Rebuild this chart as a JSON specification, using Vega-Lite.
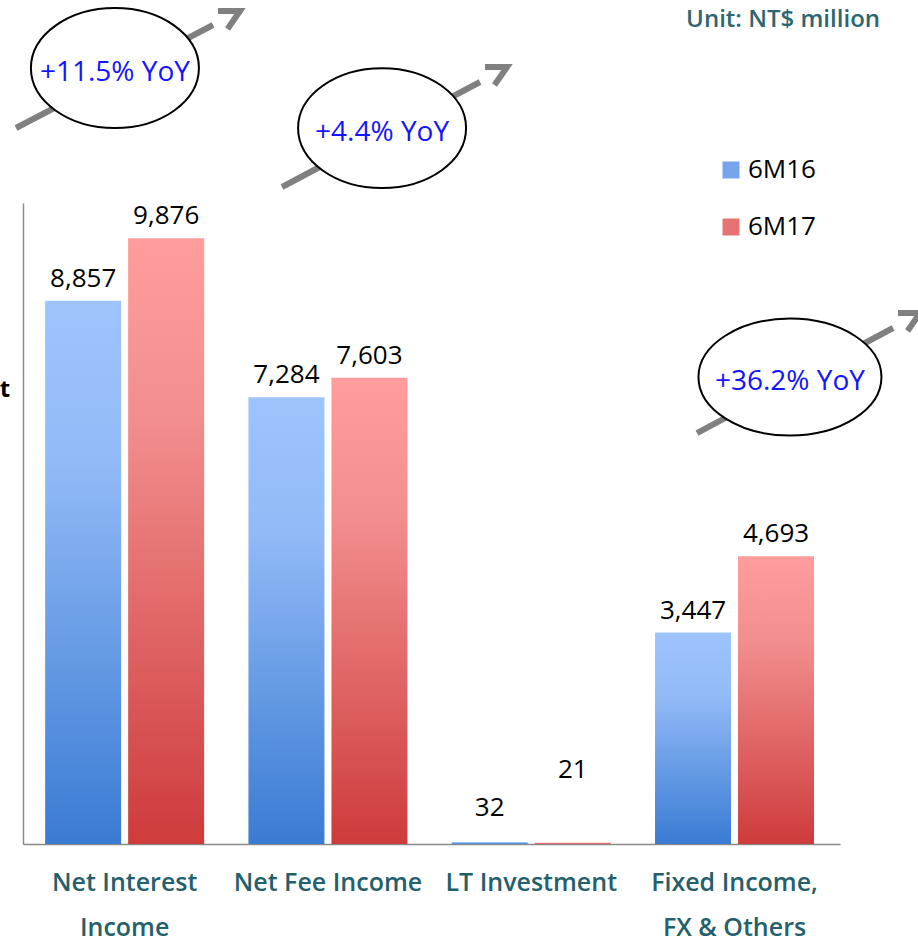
{
  "$schema": "https://vega.github.io/schema/vega-lite/v6.json",
  "width": 817,
  "height": 641,
  "autosize": {"type": "none"},
  "padding": {"left": 23, "top": 203, "right": 78, "bottom": 97},
  "background": "white",
  "config": {"view": {"stroke": null}, "font": "Open Sans"},
  "datasets": {
    "bars": [
      {"category": "Net Interest Income", "series": "6M16", "value": 8857},
      {"category": "Net Interest Income", "series": "6M17", "value": 9876},
      {"category": "Net Fee Income", "series": "6M16", "value": 7284},
      {"category": "Net Fee Income", "series": "6M17", "value": 7603},
      {"category": "LT Investment", "series": "6M16", "value": 32},
      {"category": "LT Investment", "series": "6M17", "value": 21},
      {"category": "Fixed Income, FX & Others", "series": "6M16", "value": 3447},
      {"category": "Fixed Income, FX & Others", "series": "6M17", "value": 4693}
    ],
    "arrows": [
      {"x0": -0.0343, "y0": 11673, "x1": 0.9302, "y1": 13352, "tipx": 1.0624, "tipy": 13580},
      {"x0": 1.2681, "y0": 10711, "x1": 2.2375, "y1": 12423, "tipx": 2.3696, "tipy": 12667},
      {"x0": 3.2999, "y0": 6700, "x1": 4.2595, "y1": 8412, "tipx": 4.3917, "tipy": 8657}
    ],
    "bubbles": [
      {"label": "+11.5% YoY", "bx": 0.45, "by": 12650},
      {"label": "+4.4% YoY", "bx": 1.758, "by": 11671},
      {"label": "+36.2% YoY", "bx": 3.755, "by": 7612}
    ],
    "notes": [
      {"note": "Unit: NT$ million", "kind": "unit", "nx": 4.196, "ny": 13440},
      {"note": "t", "kind": "side", "nx": -0.088, "ny": 7401}
    ]
  },
  "resolve": {"scale": {"x": "independent", "y": "independent"}},
  "layer": [
    {
      "data": {"name": "bars"},
      "encoding": {
        "x": {
          "field": "category", "type": "nominal", "sort": null,
          "scale": {"paddingInner": 0, "paddingOuter": 0.0094, "align": 0},
          "axis": {
            "title": null, "domainColor": "#8A8A8A", "domainWidth": 1.5,
            "ticks": false, "tickSize": 0, "labelFontSize": 25, "labelFont": "Open Sans",
            "labelFontWeight": 600, "labelColor": "#24606B", "labelAngle": 0,
            "labelPadding": 26, "labelLineHeight": 45, "labelBaseline": "top",
            "labelLimit": 400, "labelOverlap": false, "grid": false,
            "labelExpr": "datum.value == 'Net Interest Income' ? ['Net Interest', 'Income'] : datum.value == 'Fixed Income, FX & Others' ? ['Fixed Income,', 'FX & Others'] : datum.value"
          }
        },
        "xOffset": {
          "field": "series", "type": "nominal",
          "scale": {"domain": ["6M16", "6M17"], "paddingInner": 0.0843, "paddingOuter": 0.2667}
        },
        "y": {
          "field": "value", "type": "quantitative",
          "scale": {"domain": [0, 10450], "nice": false, "zero": true},
          "axis": {"labels": false, "ticks": false, "grid": false, "title": null, "domainColor": "#8A8A8A", "domainWidth": 1.5}
        }
      },
      "layer": [
        {
          "transform": [{"filter": "datum.series === '6M16'"}],
          "mark": {
            "type": "bar", "strokeWidth": 0,
            "fill": {"gradient": "linear", "x1": 0, "y1": 0, "x2": 0, "y2": 1,
              "stops": [{"offset": 0, "color": "#9EC4FE"}, {"offset": 0.3, "color": "#92BAF6"}, {"offset": 1, "color": "#3A7BD3"}]}
          }
        },
        {
          "transform": [{"filter": "datum.series === '6M17'"}],
          "mark": {
            "type": "bar", "strokeWidth": 0,
            "fill": {"gradient": "linear", "x1": 0, "y1": 0, "x2": 0, "y2": 1,
              "stops": [{"offset": 0, "color": "#FF9C9C"}, {"offset": 0.3, "color": "#F28E8E"}, {"offset": 1, "color": "#CE3B3B"}]}
          }
        },
        {
          "mark": {"type": "square", "opacity": 0},
          "encoding": {
            "color": {
              "field": "series", "type": "nominal",
              "scale": {"domain": ["6M16", "6M17"], "range": ["#76A5EC", "#E67272"]},
              "legend": {
                "title": null, "orient": "none", "legendX": 695, "legendY": -46,
                "symbolType": "square", "symbolSize": 289, "symbolOpacity": 1, "symbolStrokeWidth": 0,
                "labelFontSize": 26, "labelFont": "Open Sans", "labelColor": "black", "labelOffset": 4,
                "rowPadding": 31, "padding": 0
              }
            }
          }
        },
        {
          "transform": [{"filter": "datum.value > 100"}],
          "mark": {"type": "text", "dy": -22, "fontSize": 26, "font": "Open Sans", "color": "black", "baseline": "middle"},
          "encoding": {"text": {"field": "value", "type": "quantitative", "format": ","}}
        },
        {
          "transform": [{"filter": "datum.category === 'LT Investment' && datum.series === '6M16'"}],
          "mark": {"type": "text", "dy": -34, "fontSize": 26, "font": "Open Sans", "color": "black", "baseline": "middle"},
          "encoding": {"text": {"field": "value", "type": "quantitative", "format": ","}}
        },
        {
          "transform": [{"filter": "datum.category === 'LT Investment' && datum.series === '6M17'"}],
          "mark": {"type": "text", "dy": -73, "fontSize": 26, "font": "Open Sans", "color": "black", "baseline": "middle"},
          "encoding": {"text": {"field": "value", "type": "quantitative", "format": ","}}
        }
      ]
    },
    {
      "layer": [
        {
          "data": {"name": "arrows"},
          "mark": {"type": "rule", "color": "#808080", "strokeWidth": 6},
          "encoding": {
            "x": {"field": "x0", "type": "quantitative", "scale": {"domain": [0, 4], "nice": false, "zero": false}, "axis": null},
            "y": {"field": "y0", "type": "quantitative", "scale": {"domain": [0, 10450], "nice": false, "zero": false}, "axis": null},
            "x2": {"field": "x1"},
            "y2": {"field": "y1"}
          }
        },
        {
          "data": {"name": "arrows"},
          "mark": {"type": "point", "shape": "M -1.833 0 L 0 0 L -1.04 1.5", "size": 576, "filled": false, "stroke": "#808080", "strokeWidth": 6, "opacity": 1, "strokeJoin": "miter"},
          "encoding": {
            "x": {"field": "tipx", "type": "quantitative", "scale": {"domain": [0, 4], "nice": false, "zero": false}, "axis": null},
            "y": {"field": "tipy", "type": "quantitative", "scale": {"domain": [0, 10450], "nice": false, "zero": false}, "axis": null}
          }
        },
        {
          "data": {"name": "bubbles"},
          "transform": [{"filter": "datum.label !== '+36.2% YoY'"}],
          "mark": {"type": "point", "shape": "M -1 0 C -1 -0.394 -0.5523 -0.714 0 -0.714 C 0.5523 -0.714 1 -0.394 1 0 C 1 0.394 0.5523 0.714 0 0.714 C -0.5523 0.714 -1 0.394 -1 0 Z", "size": 28224, "filled": true, "fill": "white", "stroke": "black", "strokeWidth": 2, "opacity": 1},
          "encoding": {
            "x": {"field": "bx", "type": "quantitative", "scale": {"domain": [0, 4], "nice": false, "zero": false}, "axis": null},
            "y": {"field": "by", "type": "quantitative", "scale": {"domain": [0, 10450], "nice": false, "zero": false}, "axis": null}
          }
        },
        {
          "data": {"name": "bubbles"},
          "transform": [{"filter": "datum.label === '+36.2% YoY'"}],
          "mark": {"type": "point", "shape": "M -1 0 C -1 -0.353 -0.5523 -0.639 0 -0.639 C 0.5523 -0.639 1 -0.353 1 0 C 1 0.353 0.5523 0.639 0 0.639 C -0.5523 0.639 -1 0.353 -1 0 Z", "size": 33489, "filled": true, "fill": "white", "stroke": "black", "strokeWidth": 2, "opacity": 1},
          "encoding": {
            "x": {"field": "bx", "type": "quantitative", "scale": {"domain": [0, 4], "nice": false, "zero": false}, "axis": null},
            "y": {"field": "by", "type": "quantitative", "scale": {"domain": [0, 10450], "nice": false, "zero": false}, "axis": null}
          }
        },
        {
          "data": {"name": "bubbles"},
          "mark": {"type": "text", "fontSize": 28, "font": "Open Sans", "fontWeight": 500, "color": "#1414FF", "baseline": "middle", "align": "center", "dy": 5},
          "encoding": {
            "x": {"field": "bx", "type": "quantitative", "scale": {"domain": [0, 4], "nice": false, "zero": false}, "axis": null},
            "y": {"field": "by", "type": "quantitative", "scale": {"domain": [0, 10450], "nice": false, "zero": false}, "axis": null},
            "text": {"field": "label"}
          }
        },
        {
          "data": {"name": "notes"},
          "transform": [{"filter": "datum.kind === 'unit'"}],
          "mark": {"type": "text", "fontSize": 24, "font": "Open Sans", "fontWeight": 600, "color": "#2C6670", "baseline": "middle", "align": "right"},
          "encoding": {
            "x": {"field": "nx", "type": "quantitative", "scale": {"domain": [0, 4], "nice": false, "zero": false}, "axis": null},
            "y": {"field": "ny", "type": "quantitative", "scale": {"domain": [0, 10450], "nice": false, "zero": false}, "axis": null},
            "text": {"field": "note"}
          }
        },
        {
          "data": {"name": "notes"},
          "transform": [{"filter": "datum.kind === 'side'"}],
          "mark": {"type": "text", "fontSize": 24, "font": "Open Sans", "fontWeight": 700, "color": "black", "baseline": "middle", "align": "center"},
          "encoding": {
            "x": {"field": "nx", "type": "quantitative", "scale": {"domain": [0, 4], "nice": false, "zero": false}, "axis": null},
            "y": {"field": "ny", "type": "quantitative", "scale": {"domain": [0, 10450], "nice": false, "zero": false}, "axis": null},
            "text": {"field": "note"}
          }
        }
      ]
    }
  ]
}
